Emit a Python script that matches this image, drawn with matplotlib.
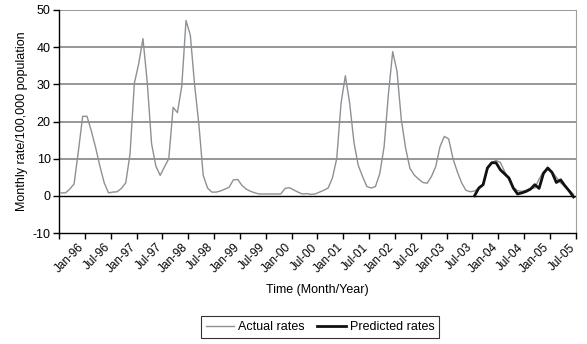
import matplotlib
matplotlib.use("Agg")
import matplotlib.pyplot as plt
import numpy as np

plt.rcParams["font.family"] = ["Liberation Sans", "DejaVu Sans"]
plt.rcParams["axes.unicode_minus"] = False

# ---------------------------------------------------
# Data (monthly rates)
# ---------------------------------------------------
actual = [
    0.8, 0.8, 1.8, 3.2, 12.0, 21.4, 21.4, 17.5, 13.0, 8.0,
    3.5, 0.8, 1.0, 1.1, 2.0, 3.5, 11.3, 30.3, 35.5, 42.3,
    30.5, 14.0, 8.0, 5.5, 7.8, 10.0, 23.8, 22.4, 29.4, 47.2,
    43.2, 29.8, 19.0, 5.5, 2.1, 1.0, 1.0, 1.3, 1.8, 2.3,
    4.3, 4.4, 2.8, 1.8, 1.2, 0.8, 0.5, 0.5, 0.5, 0.5,
    0.5, 0.5, 2.0, 2.2, 1.6, 1.0, 0.5, 0.6, 0.4, 0.5,
    1.0, 1.5, 2.1, 4.8, 10.0, 24.9, 32.3, 25.0, 14.4, 8.2,
    5.2, 2.5, 2.1, 2.5, 6.0, 13.2, 27.3, 38.8, 33.5, 20.5,
    12.8, 7.4, 5.6, 4.5, 3.6, 3.4, 5.2, 7.9, 13.3, 16.0,
    15.3, 10.0, 6.5, 3.5, 1.5, 1.1, 1.3, 2.0, 3.0, 7.2,
    9.0, 9.5, 9.0, 6.5, 4.3, 2.2, 1.4, 1.2, 1.5, 2.0,
    2.1, 4.5, 6.5, 7.0, 6.5, 5.0, 3.5, 2.5, 1.5, 0.4,
]

pred_start = 96
predicted = [
    0.0, 2.1, 3.0, 7.5, 8.9, 8.9, 7.0, 5.9, 4.8, 2.1,
    0.5, 0.8, 1.2, 1.8, 3.0, 2.0, 6.0, 7.5, 6.3, 3.6,
    4.3, 2.7, 1.3, -0.3,
]

tick_labels = [
    "Jan-96", "Jul-96", "Jan-97", "Jul-97", "Jan-98", "Jul-98", "Jan-99",
    "Jul-99", "Jan-00", "Jul-00", "Jan-01", "Jul-01", "Jan-02", "Jul-02",
    "Jan-03", "Jul-03", "Jan-04", "Jul-04", "Jan-05", "Jul-05",
]

x_act = np.arange(len(actual))
x_pred = np.arange(pred_start, pred_start + len(predicted))

# ---------------------------------------------------
# Figure
# ---------------------------------------------------
W, H = 587, 344
fig = plt.figure(figsize=(W / 100, H / 100), dpi=100)
ax = fig.add_axes([59 / W, 1 - 233 / H, (575.7 - 59) / W, (233 - 10) / H])

ax.set_xlim(-0.5, len(actual) - 0.5)
ax.set_ylim(-10, 50)

for yv in range(10, 51, 10):
    ax.axhline(yv, color="#858585", linewidth=1.2, zorder=1)
ax.axhline(0, color="black", linewidth=1.0, zorder=1)

ax.plot(x_act, actual, color="#8c9196", linewidth=1.0, label="Actual rates", zorder=3)
ax.plot(x_pred, predicted, color="#111111", linewidth=2.0, label="Predicted rates", zorder=4)

# y axis
ax.set_yticks(range(-10, 51, 10))
ax.tick_params(axis="y", direction="out", length=4, width=1, labelsize=9, pad=2)
ax.set_ylabel("Monthly rate/100,000 population", fontsize=9, labelpad=3)

# x axis: tick marks every 6 months, labels in between
ax.set_xticks(np.arange(0, len(actual) + 1, 6) - 0.5)
ax.set_xticklabels([])
ax.set_xticks(np.arange(len(tick_labels)) * 6 + 4, minor=True)
ax.set_xticklabels(tick_labels, minor=True, rotation=45, ha="right",
                   rotation_mode="anchor", fontsize=8.5)
ax.tick_params(axis="x", which="major", direction="out", length=4, width=1)
ax.tick_params(axis="x", which="minor", length=0, pad=6)
ax.set_xlabel("Time (Month/Year)", fontsize=9, labelpad=6)

for side in ["left", "bottom"]:
    ax.spines[side].set_color("black")
    ax.spines[side].set_linewidth(1.0)
ax.spines["right"].set_color("#a0a0a0")
ax.spines["top"].set_visible(False)

leg = fig.legend(loc="center", bbox_to_anchor=(320 / W, 1 - 327 / H), ncol=2,
                 fontsize=9, frameon=True, fancybox=False, handlelength=2.3,
                 handletextpad=0.3, columnspacing=1.0, borderpad=0.4)
leg.get_frame().set_edgecolor("black")
leg.get_frame().set_linewidth(0.8)

fig.savefig("out.png", dpi=100)
